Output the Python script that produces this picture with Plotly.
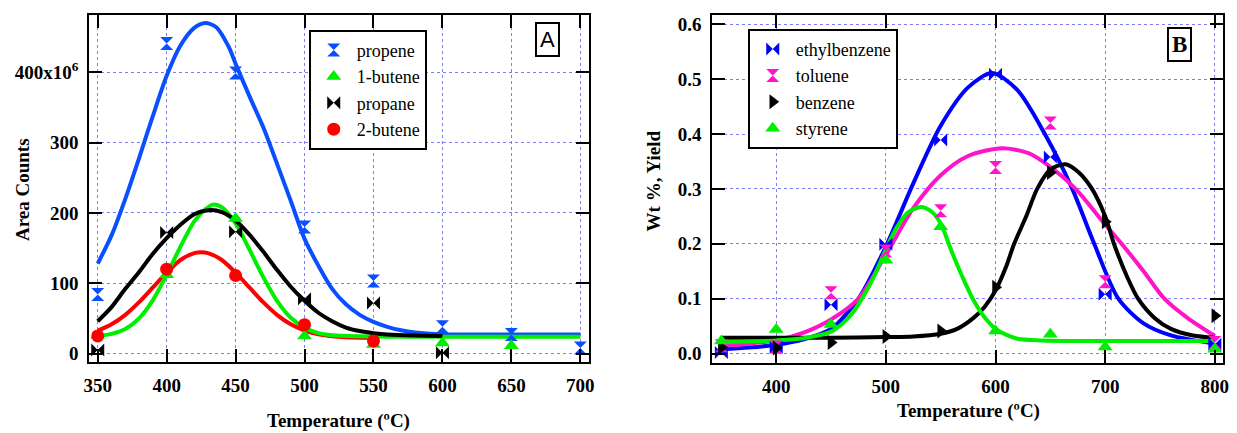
import plotly.graph_objects as go

W, H = 1237, 433
SERIF = "Liberation Serif"

# ---------------- Panel A: gas products (area counts, x10^6) ----------------
temp_a = [350, 400, 450, 500, 550, 600, 650, 700]
propene = [84, 441, 399, 180, 103, 38, 27, 8]
butene1_t = [350, 400, 450, 500, 550, 600, 650]
butene1 = [26, 112, 192, 25, 13, 15, 11]
propane_t = [350, 400, 450, 500, 550, 600]
propane = [5, 172, 173, 78, 72, 1]
butene2_t = [350, 400, 450, 500, 550]
butene2 = [25, 120, 111, 41, 18]

# fitted curves (sampled)
propene_fit_t = [350, 360, 370, 380, 390, 400, 410, 420, 428, 436, 445, 450, 460, 470, 480,
                 490, 500, 510, 520, 530, 540, 550, 560, 570, 580, 600, 650, 700]
propene_fit = [128, 168, 220, 278, 338, 395, 438, 463, 470, 464, 436, 412, 366, 322, 270,
               217, 163, 125, 92, 70, 55, 45, 38, 33, 30, 27.5, 27, 27]
butene1_fit_t = [350, 360, 370, 380, 390, 400, 410, 420, 428, 434, 440, 450, 460, 470, 480,
                 490, 500, 510, 520, 540, 560, 600, 650, 700]
butene1_fit = [25, 28, 35, 50, 76, 112, 152, 188, 205, 212, 208, 185, 148, 109, 75,
               51, 37, 29, 26, 24.5, 24, 24, 24, 24]
propane_fit_t = [350, 360, 370, 380, 390, 400, 410, 420, 432, 440, 450, 460, 470, 480, 490,
                 500, 510, 520, 530, 540, 550, 560, 580, 600]
propane_fit = [46, 66, 92, 116, 142, 164, 183, 198, 204, 201, 189, 169, 145, 119, 95,
               75, 58, 46, 37, 32, 29, 27, 25.5, 25]
butene2_fit_t = [350, 360, 370, 380, 390, 400, 410, 420, 425, 430, 440, 450, 460, 470, 480,
                 490, 500, 510, 520, 530, 540, 552]
butene2_fit = [32.5, 41.5, 55, 73, 94, 115, 133, 142.7, 144, 142.7, 133, 115, 94, 73, 55,
               41.5, 32.6, 27.3, 24.4, 23, 22.4, 22]

# ---------------- Panel B: liquid products (wt %) ----------------
temp_b = [350, 400, 450, 500, 550, 600, 650, 700, 800]
ethylbenzene = [0.002, 0.011, 0.089, 0.199, 0.389, 0.509, 0.358, 0.108, 0.017]
toluene = [0.014, 0.012, 0.111, 0.187, 0.260, 0.339, 0.420, 0.131, 0.020]
benzene = [0.011, 0.010, 0.020, 0.031, 0.041, 0.121, 0.330, 0.240, 0.069]
styrene = [0.023, 0.044, 0.053, 0.170, 0.231, 0.041, 0.035, 0.012, 0.008]

ethyl_fit_t = [350, 375, 400, 425, 450, 475, 500, 525, 550, 575, 597, 620, 645, 670, 690,
               712, 735, 760, 800]
ethyl_fit = [0.008, 0.011, 0.016, 0.026, 0.045, 0.100, 0.195, 0.310, 0.415, 0.485, 0.511,
             0.480, 0.400, 0.300, 0.200, 0.100, 0.055, 0.033, 0.018]
toluene_fit_t = [350, 375, 400, 425, 450, 475, 500, 525, 550, 575, 606, 630, 650, 673, 700,
                 715, 735, 754, 775, 800]
toluene_fit = [0.014, 0.018, 0.024, 0.038, 0.062, 0.100, 0.180, 0.265, 0.325, 0.360, 0.374,
               0.365, 0.340, 0.300, 0.235, 0.200, 0.150, 0.100, 0.065, 0.032]
benzene_fit_t = [350, 400, 450, 500, 525, 550, 565, 580, 590, 600, 610, 617, 628, 638, 650,
                 664, 676, 688, 700, 708, 720, 730, 745, 760, 780, 800]
benzene_fit = [0.029, 0.029, 0.029, 0.030, 0.031, 0.036, 0.045, 0.065, 0.085, 0.115, 0.160,
               0.200, 0.250, 0.300, 0.335, 0.345, 0.330, 0.300, 0.250, 0.200, 0.140, 0.100,
               0.065, 0.045, 0.033, 0.029]
styrene_fit_t = [350, 400, 425, 450, 460, 470, 480, 490, 500, 510, 520, 532, 542, 550, 560,
                 570, 580, 590, 600, 610, 620, 640, 700, 800]
styrene_fit = [0.021, 0.024, 0.028, 0.040, 0.054, 0.075, 0.106, 0.144, 0.190, 0.230, 0.257,
               0.267, 0.258, 0.237, 0.186, 0.139, 0.097, 0.066, 0.045, 0.034, 0.027, 0.024,
               0.023, 0.023]

PROPENE = "#0a4fff"
GREEN = "#00ee00"
BLACK = "#000000"
RED = "#ff0000"
BLUE = "#0000ff"
MAGENTA = "#ff14c8"

fig = go.Figure()


def fit_line(x, y, color, xa, ya):
    fig.add_trace(go.Scatter(x=x, y=y, mode="lines", xaxis=xa, yaxis=ya,
                             line=dict(color=color, width=4, shape="spline", smoothing=0.8),
                             showlegend=False, hoverinfo="skip"))


def points(x, y, color, symbol, name, xa, ya, legend):
    fig.add_trace(go.Scatter(x=x, y=y, mode="markers", name=name, xaxis=xa, yaxis=ya,
                             marker=dict(color=color, symbol=symbol, size=13,
                                         line=dict(width=0)),
                             legend=legend))


# Panel A lines
fit_line(propene_fit_t, propene_fit, PROPENE, "x", "y")
fit_line(butene2_fit_t, butene2_fit, RED, "x", "y")
fit_line(butene1_fit_t, butene1_fit, GREEN, "x", "y")
fit_line(propane_fit_t, propane_fit, BLACK, "x", "y")
# Panel A markers
points(temp_a, propene, PROPENE, "hourglass", "propene", "x", "y", "legend")
points(butene1_t, butene1, GREEN, "triangle-up", "1-butene", "x", "y", "legend")
points(propane_t, propane, BLACK, "bowtie", "propane", "x", "y", "legend")
points(butene2_t, butene2, RED, "circle", "2-butene", "x", "y", "legend")

# Panel B lines
fit_line(ethyl_fit_t, ethyl_fit, BLUE, "x2", "y2")
fit_line(toluene_fit_t, toluene_fit, MAGENTA, "x2", "y2")
fit_line(benzene_fit_t, benzene_fit, BLACK, "x2", "y2")
fit_line(styrene_fit_t, styrene_fit, GREEN, "x2", "y2")
# Panel B markers
points(temp_b, ethylbenzene, BLUE, "bowtie", "ethylbenzene", "x2", "y2", "legend2")
points(temp_b, toluene, MAGENTA, "hourglass", "toluene", "x2", "y2", "legend2")
points(temp_b, benzene, BLACK, "triangle-right", "benzene", "x2", "y2", "legend2")
points(temp_b, styrene, GREEN, "triangle-up", "styrene", "x2", "y2", "legend2")

tickfont = dict(family=SERIF, size=19, color="black", weight="bold")
GRID = "#7d7dff"


def axis_style(**kw):
    base = dict(showline=True, linecolor="black", linewidth=2, mirror="ticks",
                ticks="inside", ticklen=13, tickwidth=2, tickcolor="black",
                showgrid=True, gridcolor=GRID, gridwidth=1, griddash="dot",
                zeroline=False, tickfont=tickfont, ticklabelstandoff=5)
    base.update(kw)
    return base


def px_x(p):
    return p / W


def px_y(p):
    return 1 - p / H


legend_font = dict(family=SERIF, size=18, color="black")
fig.update_layout(
    width=W, height=H,
    margin=dict(l=0, r=0, t=0, b=0),
    paper_bgcolor="white", plot_bgcolor="white",
    xaxis=axis_style(domain=[px_x(84), px_x(589)], range=[343.8, 706.5],
                     tickvals=[350, 400, 450, 500, 550, 600, 650, 700], anchor="y"),
    yaxis=axis_style(domain=[px_y(364), px_y(14)], range=[-12.7, 481.5],
                     tickvals=[0, 100, 200, 300, 400],
                     ticktext=["0", "100", "200", "300", "400x10<sup>6</sup>"], anchor="x"),
    xaxis2=axis_style(domain=[px_x(713.3), px_x(1229.3)], range=[341.8, 807.8],
                      tickvals=[400, 500, 600, 700, 800], anchor="y2"),
    yaxis2=axis_style(domain=[px_y(364.3), px_y(14)], range=[-0.0168, 0.617],
                      tickvals=[0, 0.1, 0.2, 0.3, 0.4, 0.5, 0.6],
                      ticktext=["0.0", "0.1", "0.2", "0.3", "0.4", "0.5", "0.6"], anchor="x2"),
    legend=dict(x=px_x(305.7), y=px_y(29), xanchor="left", yanchor="top",
                bgcolor="white", bordercolor="black", borderwidth=2,
                itemwidth=36, font=legend_font),
    legend2=dict(x=px_x(749), y=px_y(28), xanchor="left", yanchor="top",
                 bgcolor="white", bordercolor="black", borderwidth=2,
                 itemwidth=36, font=legend_font),
    showlegend=True,
)

title_font = dict(family=SERIF, size=19, color="black", weight="bold")
annotations = [
    dict(text="Area Counts", x=px_x(16), y=px_y(189.5), textangle=-90, font=title_font),
    dict(text="Temperature (ºC)", x=px_x(336), y=px_y(423), font=title_font),
    dict(text="Wt %, Yield", x=px_x(654), y=px_y(181), textangle=-90, font=title_font),
    dict(text="Temperature (ºC)", x=px_x(972), y=px_y(413), font=title_font),
    dict(text="A", x=px_x(547), y=px_y(39), bordercolor="black", borderwidth=2, borderpad=3,
         font=dict(family="Liberation Sans", size=22, color="black")),
    dict(text="B", x=px_x(1185.3), y=px_y(44), bordercolor="black", borderwidth=2, borderpad=3,
         font=dict(family=SERIF, size=23, color="black", weight="bold")),
]
for a in annotations:
    a.update(xref="paper", yref="paper", xanchor="center", yanchor="middle", showarrow=False)
fig.update_layout(annotations=annotations)

fig.write_html("out.html")
